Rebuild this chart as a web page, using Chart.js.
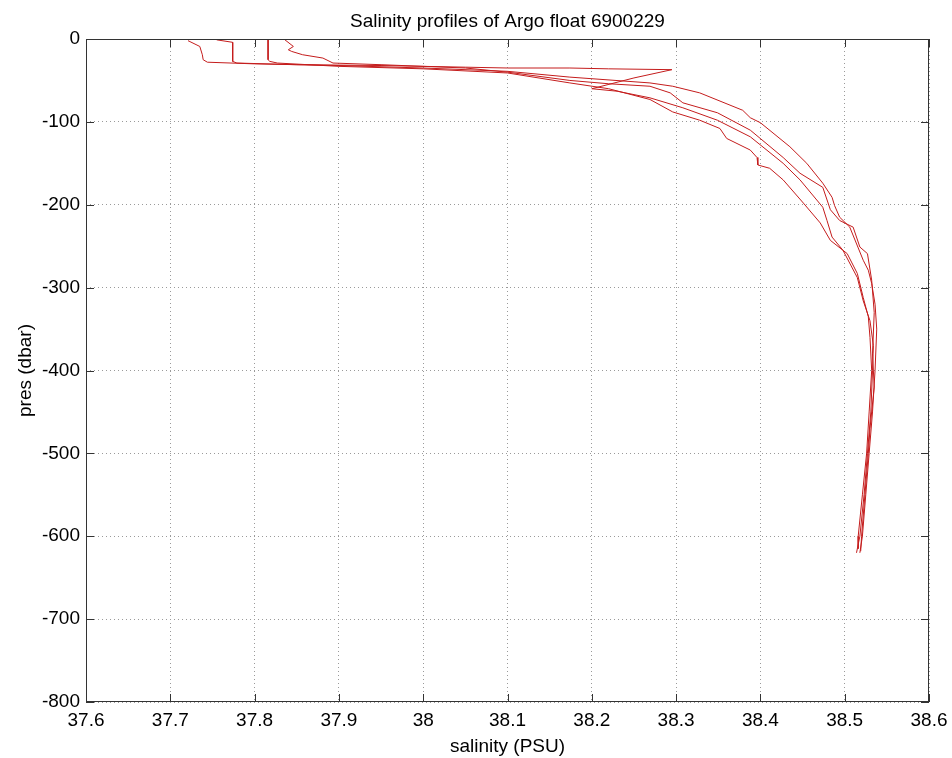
<!DOCTYPE html>
<html>
<head>
<meta charset="utf-8">
<title>Salinity profiles of Argo float 6900229</title>
<script src="https://cdn.jsdelivr.net/npm/chart.js@4.4.1/dist/chart.umd.min.js"></script>
<style>
  html, body { margin: 0; padding: 0; background: #fff; }
  #wrap { width: 952px; height: 758px; }
</style>
</head>
<body>
<div id="wrap"><canvas id="chart" width="952" height="758"></canvas></div>
<script>
// axis ticks
var salTicks = [37.6, 37.7, 37.8, 37.9, 38.0, 38.1, 38.2, 38.3, 38.4, 38.5, 38.6];
var presTicks = [0, -100, -200, -300, -400, -500, -600, -700, -800];

// profile 1
var sal1 = [37.721, 37.735, 37.738, 37.739, 37.744, 37.80, 37.90, 38.00, 38.10, 38.174, 38.269,
  38.296, 38.328, 38.379, 38.388, 38.400, 38.435, 38.455, 38.474, 38.485, 38.488, 38.494,
  38.506, 38.522, 38.528, 38.532, 38.536, 38.538, 38.536, 38.533, 38.529, 38.525, 38.521, 38.518];
var pres1 = [-2, -9, -19, -25, -28, -30, -32, -35, -39, -46, -53,
  -57, -65, -86, -95, -101, -130, -150, -174, -191, -201, -215,
  -227, -267, -279, -295, -320, -350, -400, -450, -500, -550, -600, -620];

// profile 2 (with the excursion at ~37 dbar)
var sal2 = [37.755, 37.774, 37.774, 37.779, 37.85, 37.95, 38.05, 38.10, 38.174, 38.22, 38.295,
  38.25, 38.20, 38.23, 38.269, 38.308, 38.349, 38.388, 38.427, 38.447, 38.474, 38.479,
  38.485, 38.498, 38.515, 38.522, 38.530, 38.534, 38.533, 38.531, 38.527, 38.523, 38.518, 38.514];
var pres2 = [-1, -4, -27, -29, -31, -32, -34, -35, -35, -36, -37,
  -47, -60, -63, -71, -83, -98, -118, -150, -170, -203, -219,
  -239, -255, -288, -316, -340, -370, -400, -450, -500, -550, -600, -620];

// profile 3
var sal3 = [37.816, 37.816, 37.818, 37.827, 37.90, 38.00, 38.10, 38.174, 38.22, 38.269,
  38.296, 38.328, 38.352, 38.360, 38.388, 38.396, 38.397, 38.411, 38.427, 38.451, 38.471,
  38.483, 38.503, 38.515, 38.522, 38.528, 38.530, 38.532, 38.529, 38.526, 38.521, 38.516, 38.516];
var pres3 = [-1, -25, -27, -29, -33, -36, -41, -53, -60, -73,
  -88, -98, -108, -120, -134, -143, -152, -156, -170, -198, -222,
  -243, -259, -283, -312, -335, -360, -400, -450, -500, -550, -600, -615];

// profile 4
var sal4 = [37.836, 37.846, 37.840, 37.844, 37.857, 37.881, 37.893, 37.95, 38.05, 38.10, 38.174,
  38.22, 38.269, 38.293, 38.308, 38.349, 38.388, 38.427, 38.447, 38.474, 38.483, 38.494,
  38.510, 38.518, 38.527, 38.532, 38.535, 38.533, 38.535, 38.530, 38.528, 38.524, 38.520, 38.519];
var pres4 = [-1, -9, -13, -15, -19, -23, -29, -31, -35, -40, -50,
  -54, -57, -65, -77, -89, -110, -143, -162, -179, -206, -219,
  -227, -251, -259, -291, -330, -380, -420, -470, -500, -550, -600, -618];

var profiles = [[sal1, pres1], [sal2, pres2], [sal3, pres3], [sal4, pres4]];
var lineColor = "rgb(196, 28, 28)";
var axisColor = "#333333";
var gridColor = "#9a9a9a";
var font = "'Liberation Sans', Arial, Helvetica, sans-serif";

function toPoints(s, p) {
  return s.map(function (v, i) { return { x: v, y: p[i] }; });
}

var datasets = profiles.map(function (pr, i) {
  return {
    label: "profile " + (i + 1),
    data: toPoints(pr[0], pr[1]),
    borderColor: lineColor,
    borderWidth: 1,
    pointRadius: 0,
    showLine: true,
    fill: false,
    tension: 0
  };
});

// box round the plot with inward tick marks, and the title
var boxPlugin = {
  id: "box",
  afterDraw: function (chart) {
    var ctx = chart.ctx;
    var a = chart.chartArea;
    var xs = chart.scales.x, ys = chart.scales.y;
    ctx.save();
    ctx.strokeStyle = axisColor;
    ctx.lineWidth = 1;
    ctx.strokeRect(a.left + 0.5, a.top + 0.5, a.right - a.left - 1, a.bottom - a.top - 1);
    ctx.beginPath();
    salTicks.forEach(function (t) {
      var x = Math.round(xs.getPixelForValue(t)) + 0.5;
      ctx.moveTo(x, a.bottom); ctx.lineTo(x, a.bottom - 8);
      ctx.moveTo(x, a.top); ctx.lineTo(x, a.top + 8);
    });
    presTicks.forEach(function (t) {
      var y = Math.round(ys.getPixelForValue(t)) + 0.5;
      ctx.moveTo(a.left, y); ctx.lineTo(a.left + 8, y);
      ctx.moveTo(a.right, y); ctx.lineTo(a.right - 8, y);
    });
    ctx.stroke();
    ctx.fillStyle = "#000";
    ctx.font = "19px " + font;
    ctx.textAlign = "center";
    ctx.textBaseline = "alphabetic";
    ctx.fillText("Salinity profiles of Argo float 6900229", (a.left + a.right) / 2, 27);
    ctx.restore();
  }
};

Chart.defaults.font.family = font;
Chart.defaults.color = "#000";

new Chart(document.getElementById("chart"), {
  type: "line",
  data: { datasets: datasets },
  options: {
    responsive: false,
    animation: false,
    layout: { padding: { top: 39, right: 23, bottom: 0, left: 0 } },
    plugins: {
      legend: { display: false },
      tooltip: { enabled: false }
    },
    scales: {
      x: {
        type: "linear",
        min: 37.6,
        max: 38.6,
        afterBuildTicks: function (s) { s.ticks = salTicks.map(function (v) { return { value: v }; }); },
        afterFit: function (s) { s.height = 56; s.paddingLeft = 0; s.paddingRight = 0; },
        ticks: {
          font: { size: 19 },
          padding: 7,
          maxRotation: 0,
          callback: function (v) { return String(parseFloat(Number(v).toFixed(1))); }
        },
        grid: { color: gridColor, drawTicks: false, lineWidth: 1 },
        border: { display: false, dash: [1, 3] },
        title: { display: true, text: "salinity (PSU)", font: { size: 19 }, padding: { top: 0, bottom: 0 } }
      },
      y: {
        type: "linear",
        min: -800,
        max: 0,
        afterBuildTicks: function (s) { s.ticks = presTicks.map(function (v) { return { value: v }; }); },
        afterFit: function (s) { s.width = 86; s.paddingTop = 0; s.paddingBottom = 0; },
        ticks: {
          font: { size: 19 },
          padding: 6,
          callback: function (v) { return String(v); }
        },
        grid: { color: gridColor, drawTicks: false, lineWidth: 1 },
        border: { display: false, dash: [1, 3] },
        title: { display: true, text: "pres (dbar)", font: { size: 19 }, padding: { top: 14, bottom: 0 } }
      }
    }
  },
  plugins: [boxPlugin]
});
</script>
</body>
</html>
